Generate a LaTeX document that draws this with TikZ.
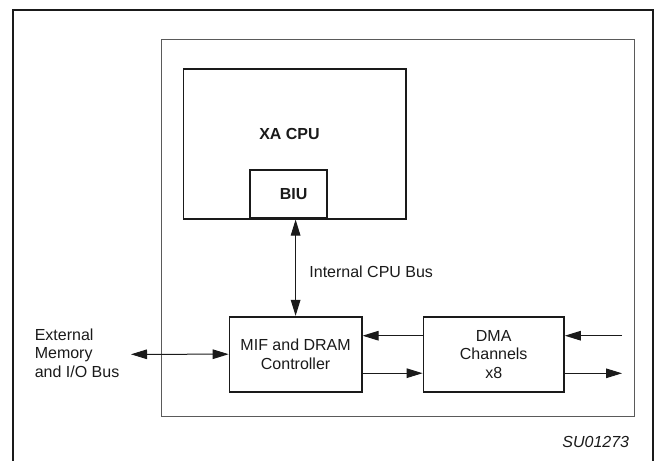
\documentclass[tikz,border=0pt]{standalone}
\usepackage{fontspec}
\setmainfont{Liberation Sans}
\usepackage{xcolor}
\usepackage{tikz}
\usetikzlibrary{calc,positioning,arrows.meta}
\definecolor{ink}{HTML}{1A1A1A}
\definecolor{frame}{HTML}{5A5A5A}
\tikzset{
  Block/.style={
    draw=ink, line width=0.85pt,
    inner sep=0pt, align=center,
    text=ink
  },
  BusArrow/.style={
    draw=ink, line width=0.5pt,
    -{Triangle[length=8pt,width=4.8pt]}
  },
  BusBoth/.style={
    BusArrow, {Triangle[length=8pt,width=4.8pt]}-{Triangle[length=8pt,width=4.8pt]}
  },
  Caption/.style={inner sep=0pt, text=ink}
}

\begin{document}
\begin{tikzpicture}[x=0.5pt, y=-0.5pt, line cap=butt, line join=miter,
  every node/.style={font=\fontsize{8}{9.2}\selectfont}]
  \useasboundingbox (0,0) rectangle (656,460);

  % outer frame (open at the bottom) and chip outline
  \draw[ink, line width=1pt] (12.6,470) -- (12.6,10) -- (652.5,10) -- (652.5,470);
  \draw[frame, line width=0.5pt] (161.6,40) rectangle (634.5,416);

  % processor core
  \node[Block, minimum width=111.4pt, minimum height=74.7pt] (cpu) at (294.8,144) {};
  \node[Caption, font=\fontsize{8}{9.2}\selectfont\bfseries] (cpulbl) at (289.5,134.3) {XA CPU};
  \node[Block, minimum width=38.6pt, minimum height=24pt, anchor=south,
    font=\fontsize{8}{9.2}\selectfont\bfseries] (biu) at (288.6,218.7) {\hspace{5pt}BIU};

  % memory interface and DMA
  \node[Block, minimum width=66.1pt, minimum height=37.5pt] (mif) at (295.6,354.2)
    {MIF and DRAM\\Controller};
  \node[Block, minimum width=70.3pt, minimum height=37.5pt, right=30pt of mif] (dma)
    {DMA\\Channels\\x8};

  \draw[BusBoth] (mif.north |- cpu.south) -- (mif.north);
  \node[Caption, anchor=west] (intbus) at (309,271.7) {Internal CPU Bus};

  \coordinate (extbus) at (131,354.3);
  \draw[BusBoth] (extbus) -- (mif.west);
  \node[Caption, anchor=west, align=left] (extlbl) at (34.4,353) {External\\Memory\\and I/O Bus};

  \draw[BusArrow] ([yshift=9.25pt]dma.west) -- ([yshift=9.25pt]dma.west -| mif.east);
  \draw[BusArrow] ([yshift=-9.5pt]mif.east) -- ([yshift=-9.5pt]mif.east -| dma.west);

  \coordinate (dmain) at (622,335.7);
  \coordinate (dmaout) at (622,373.3);
  \draw[BusArrow] (dmain) -- (dmain -| dma.east);
  \draw[BusArrow] (dmaout -| dma.east) -- (dmaout);

  \node[Caption, anchor=east, font=\fontsize{8}{9.2}\selectfont\itshape] (code) at (629.5,441.7) {SU01273};
\end{tikzpicture}
\end{document}
